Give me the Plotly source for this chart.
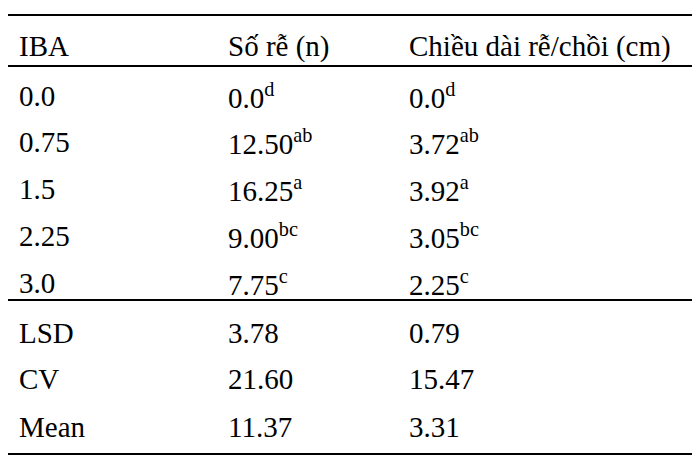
import plotly.graph_objects as go

headers = ["IBA", "Số rễ (n)", "Chiều dài rễ/chồi (cm)"]
iba = ["0.0", "0.75", "1.5", "2.25", "3.0", "LSD", "CV", "Mean"]
so_re = ["0.0", "12.50", "16.25", "9.00", "7.75", "3.78", "21.60", "11.37"]
so_re_sup = ["d", "ab", "a", "bc", "c", "", "", ""]
chieu_dai = ["0.0", "3.72", "3.92", "3.05", "2.25", "0.79", "15.47", "3.31"]
chieu_dai_sup = ["d", "ab", "a", "bc", "c", "", "", ""]

col_x = [1, 210, 391]
header_y = 30
row_y = [80, 126, 173, 220, 267, 317, 363, 411]
line_y = [-1, 50, 284, 438]
font = dict(family="Liberation Serif", size=29, color="black")

fig = go.Figure()
ann = []
for x, h in zip(col_x, headers):
    ann.append(dict(x=x, y=header_y, text=h, xanchor="left", yanchor="middle", showarrow=False, font=font))

def fmt(v, s):
    return v + (f"<sup>{s}</sup>" if s else "")

for i, y in enumerate(row_y):
    for x, t in zip(col_x, [iba[i], fmt(so_re[i], so_re_sup[i]), fmt(chieu_dai[i], chieu_dai_sup[i])]):
        ann.append(dict(x=x, y=y, text=t, xanchor="left", yanchor="middle", showarrow=False, font=font))

shapes = [dict(type="line", x0=-8, x1=684, y0=y, y1=y, line=dict(color="black", width=2)) for y in line_y]

fig.update_layout(
    width=700, height=463, margin=dict(l=0, r=0, t=0, b=0),
    paper_bgcolor="white", plot_bgcolor="white",
    xaxis=dict(range=[-8, 692], visible=False),
    yaxis=dict(range=[455, -8], visible=False),
    annotations=ann, shapes=shapes, showlegend=False,
)
fig.write_html("out.html")
